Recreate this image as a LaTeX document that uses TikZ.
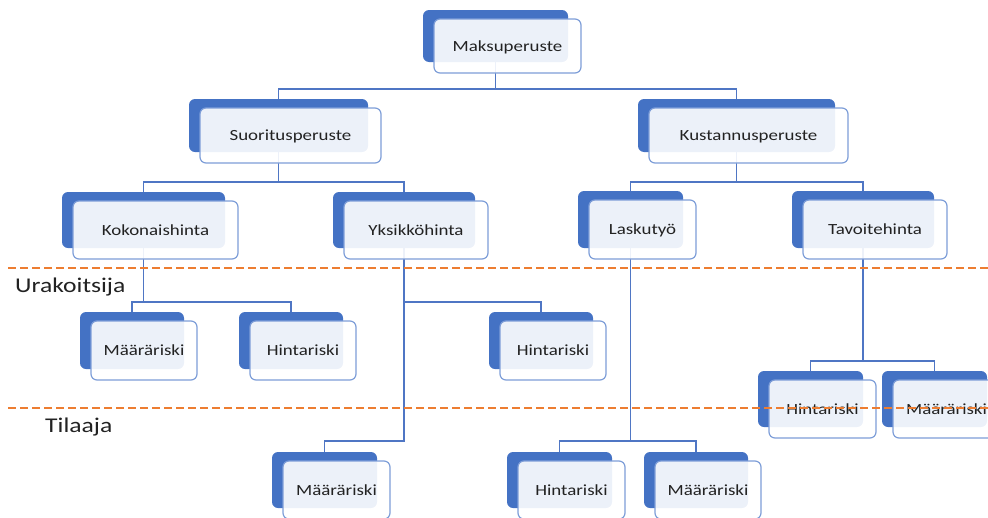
\documentclass[tikz,border=0pt]{standalone}
\usepackage{fontspec}
\setmainfont{Carlito}
\usepackage{graphicx}
\definecolor{sablue}{HTML}{4472C4}
\definecolor{edgeblue}{HTML}{7E9ED8}
\definecolor{linkblue}{HTML}{4F76C4}
\definecolor{orangeline}{HTML}{ED7D31}
\definecolor{txt}{HTML}{222222}
\pgfdeclarelayer{bg}
\pgfsetlayers{bg,main}
\tikzset{
 backbox/.style={draw=none, fill=sablue, rounded corners=6pt, inner sep=0pt, outer sep=0pt},
 frontbox/.style={draw=edgeblue, line width=1.2pt, fill=white, fill opacity=0.9, rounded corners=6pt, inner sep=0pt, outer sep=0pt},
 boxtext/.style={text=txt, inner sep=0pt, anchor=base, font=\fontsize{15.5}{18}\selectfont},
 sidelabel/.style={text=txt, inner sep=0pt, anchor=base west, font=\fontsize{21}{24}\selectfont},
 link/.style={draw=linkblue, line width=1.2pt},
 zoneline/.style={draw=orangeline, line width=2pt, dash pattern=on 7.5pt off 4.5pt},
}
\newcommand\boxpair[6]{%
 \node[backbox, minimum width={#4pt}, minimum height={#5pt}] (#1) at ({#2+#4/2},{-(#3+#5/2)}) {};
 \node[frontbox, minimum width={#4pt+2pt}, minimum height={#5pt+2pt}] (#1F) at ([xshift=12pt,yshift=-10pt]#1.center) {};
 \node[boxtext] (#1T) at ([yshift=-5pt]#1F.center) {\scalebox{1.22}[1]{#6}};
}
\newcommand\treelink[3]{\draw[link] (#1.south) -- (#1.south |- #2) -| (#3.north);}
\begin{document}
\begin{tikzpicture}[x=1pt,y=1pt]
\useasboundingbox (0,0) rectangle (988,-517);
\clip (0,0) rectangle (988,-517);
\boxpair{maks}{423}{10}{145}{52}{Maksuperuste}
\boxpair{suor}{189}{99}{179}{53}{Suoritusperuste}
\boxpair{kust}{638}{99}{197}{53}{Kustannusperuste}
\boxpair{koko}{62}{192}{163}{56}{Kokonaishinta}
\boxpair{yksi}{333}{192}{142}{56}{Yksikköhinta}
\boxpair{lask}{578}{191}{105}{57}{Laskutyö}
\boxpair{tavo}{792}{191}{142}{57}{Tavoitehinta}
\boxpair{maarA}{80}{312}{104}{57}{Määräriski}
\boxpair{hintA}{239}{312}{104}{57}{Hintariski}
\boxpair{hintB}{489}{312}{104}{57}{Hintariski}
\boxpair{hintC}{758}{371}{105}{56}{Hintariski}
\boxpair{maarC}{882}{371}{105}{56}{Määräriski}
\boxpair{maarB}{272}{452}{105}{56}{Määräriski}
\boxpair{hintD}{507}{452}{105}{56}{Hintariski}
\boxpair{maarD}{644}{452}{104}{56}{Määräriski}
\coordinate (busA) at (0,-89);
\coordinate (busB) at (0,-182);
\coordinate (busC) at (0,-302);
\coordinate (busD) at (0,-361);
\coordinate (busE) at (0,-441);
\begin{pgfonlayer}{bg}
\treelink{maks}{busA}{suor}
\treelink{maks}{busA}{kust}
\treelink{suor}{busB}{koko}
\treelink{suor}{busB}{yksi}
\treelink{kust}{busB}{lask}
\treelink{kust}{busB}{tavo}
\treelink{koko}{busC}{maarA}
\treelink{koko}{busC}{hintA}
\treelink{yksi}{busC}{hintB}
\treelink{yksi}{busE}{maarB}
\treelink{lask}{busE}{hintD}
\treelink{lask}{busE}{maarD}
\treelink{tavo}{busD}{hintC}
\treelink{tavo}{busD}{maarC}
\end{pgfonlayer}
\coordinate (zoneAL) at (8,-268);
\coordinate (zoneAR) at (988,-268);
\coordinate (zoneBL) at (8,-408);
\coordinate (zoneBR) at (988,-408);
\draw[zoneline] (zoneAL) -- (zoneAR);
\draw[zoneline] (zoneBL) -- (zoneBR);
\node[sidelabel] (urak) at (15,-292.7) {\scalebox{1.22}[1]{Urakoitsija}};
\node[sidelabel] (tila) at (45,-432.7) {\scalebox{1.22}[1]{Tilaaja}};
\end{tikzpicture}
\end{document}
